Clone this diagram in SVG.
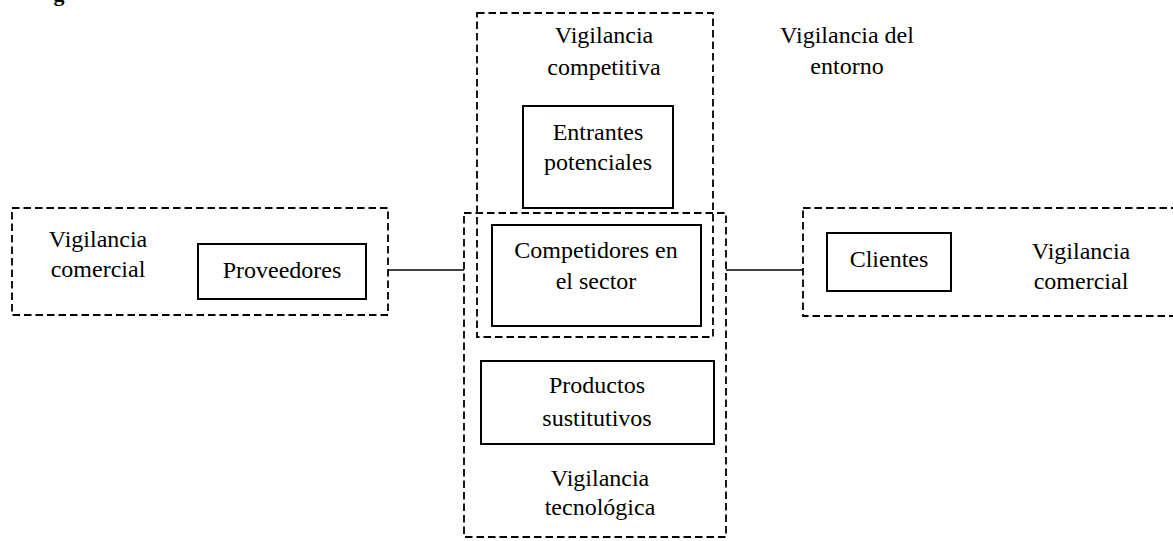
<svg xmlns="http://www.w3.org/2000/svg" width="1173" height="541" viewBox="0 0 1173 541">
<style>
text{font-family:"Liberation Serif","Times New Roman",serif;font-size:24px;fill:#000;text-anchor:middle}
.dash{fill:none;stroke:#000;stroke-width:1.8;stroke-dasharray:7.5,4}
.box{fill:none;stroke:#000;stroke-width:2}
.conn{stroke:#000;stroke-width:1.6;fill:none}
</style>
<rect width="1173" height="541" fill="#fff"/>
<text x="59" y="1" style="font-weight:bold;font-size:22px">g</text>
<g id="vig-competitiva">
<rect class="dash" x="477" y="13" width="236" height="324"/>
<text x="604" y="43">Vigilancia</text>
<text x="604" y="75">competitiva</text>
</g>
<g id="vig-tecnologica">
<rect class="dash" x="464" y="213" width="262" height="324"/>
<text x="600" y="486">Vigilancia</text>
<text x="600" y="515">tecnológica</text>
</g>
<g id="vig-comercial-izq">
<rect class="dash" x="12" y="208" width="376" height="107"/>
<text x="98" y="247">Vigilancia</text>
<text x="98" y="277">comercial</text>
</g>
<g id="vig-comercial-der">
<rect class="dash" x="803" y="208" width="380" height="108"/>
<text x="1081" y="259">Vigilancia</text>
<text x="1081" y="289">comercial</text>
</g>
<g id="vig-entorno">
<text x="847" y="43">Vigilancia del</text>
<text x="847" y="74">entorno</text>
</g>
<g id="entrantes">
<rect class="box" x="523" y="106" width="150" height="102"/>
<text x="598" y="140">Entrantes</text>
<text x="598" y="170">potenciales</text>
</g>
<g id="competidores">
<rect class="box" x="492" y="225" width="209" height="101"/>
<text x="596" y="258">Competidores en</text>
<text x="596" y="289">el sector</text>
</g>
<g id="productos">
<rect class="box" x="481" y="361" width="233" height="83"/>
<text x="597" y="393">Productos</text>
<text x="597" y="426">sustitutivos</text>
</g>
<g id="proveedores">
<rect class="box" x="198" y="244" width="168" height="55"/>
<text x="282" y="278">Proveedores</text>
</g>
<g id="clientes">
<rect class="box" x="827" y="233" width="124" height="58"/>
<text x="889" y="267">Clientes</text>
</g>
<g id="connectors">
<line class="conn" x1="388" y1="270" x2="464" y2="270"/>
<line class="conn" x1="726" y1="270" x2="803" y2="270"/>
</g>
</svg>
